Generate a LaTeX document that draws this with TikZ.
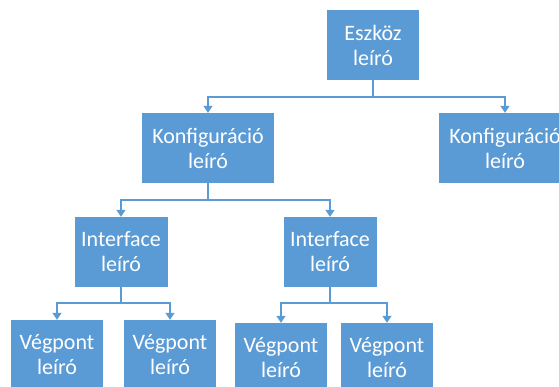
\documentclass[tikz,border=0pt]{standalone}
\usepackage{fontspec}
\setmainfont{Carlito}
\usetikzlibrary{arrows.meta}
\definecolor{boxblue}{HTML}{5B9BD5}
\begin{document}
\begin{tikzpicture}[x=1pt,y=-1pt,
  box/.style={rectangle, fill=boxblue, text=white, align=center, inner sep=0pt,
    minimum height=70pt, font=\fontsize{22}{25}\selectfont},
  conn/.style={draw=boxblue, line width=1.4pt},
  arr/.style={conn, -{Triangle[length=7pt,width=9pt]}}]
\useasboundingbox (0,0) rectangle (559,387);
\clip (0,0) rectangle (559,387);
% boxes
\node[box, minimum width=92pt] (root) at (373,45){Eszköz\\leíró};
\node[box, minimum width=132pt] (konf1) at (208,148){Konfiguráció\\leíró};
\node[box, minimum width=132pt] (konf2) at (505,148){Konfiguráció\\leíró};
\node[box, minimum width=93pt] (intf1) at (121,252){Interface\\leíró};
\node[box, minimum width=93pt] (intf2) at (330,252){Interface\\leíró};
\node[box, minimum width=92pt] (veg1) at (57,355){Végpont\\leíró};
\node[box, minimum width=92pt] (veg2) at (170,355){Végpont\\leíró};
\node[box, minimum width=92pt] (veg3) at (281,358){Végpont\\leíró};
\node[box, minimum width=92pt] (veg4) at (387,358){Végpont\\leíró};
% junctions
\coordinate (j0) at (373,97);
\coordinate (j1) at (208,200);
\coordinate (j2) at (121,303);
\coordinate (j3) at (330,303);
% connectors
\draw[conn](root.south) -- (j0);
\draw[arr](j0) -| (konf1.north);
\draw[arr](j0) -| (konf2.north);
\draw[conn](konf1.south) -- (j1);
\draw[arr](j1) -| (intf1.north);
\draw[arr](j1) -| (intf2.north);
\draw[conn](intf1.south) -- (j2);
\draw[arr](j2) -| (veg1.north);
\draw[arr](j2) -| (veg2.north);
\draw[conn](intf2.south) -- (j3);
\draw[arr](j3) -| (veg3.north);
\draw[arr](j3) -| (veg4.north);
\end{tikzpicture}
\end{document}
